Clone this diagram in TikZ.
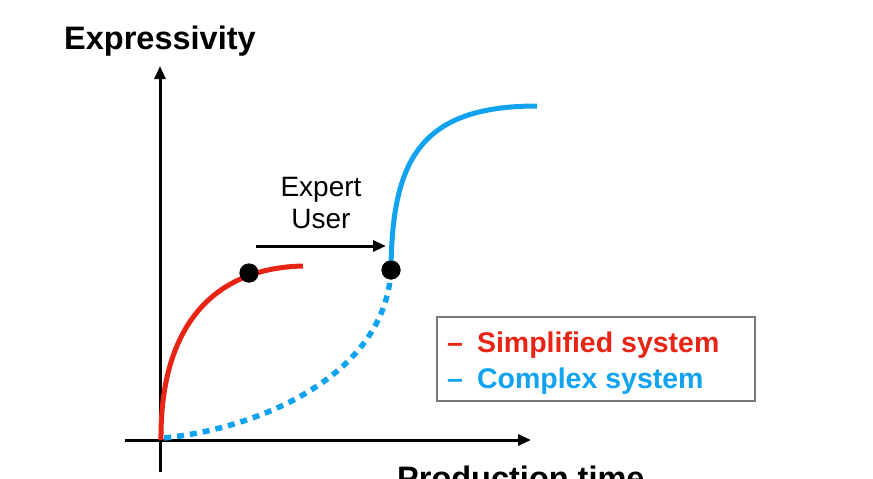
\documentclass[tikz,border=0pt]{standalone}
\usepackage{fontspec}
\setmainfont{Liberation Sans}
\usetikzlibrary{arrows.meta}
\definecolor{myred}{RGB}{232,36,20}
\definecolor{myblue}{RGB}{18,163,240}
\definecolor{boxgray}{RGB}{120,120,120}
\begin{document}
\begin{tikzpicture}[x=1pt,y=-1pt,
  axis/.style={line width=3pt,-{Triangle[length=13pt,width=11pt]}},
  curvered/.style={line width=5pt,myred},
  curveblue/.style={line width=5pt,myblue},
  dotblue/.style={line width=5.5pt,myblue,dash pattern=on 7pt off 6pt},
  dotmark/.style={circle,fill=black,inner sep=0pt,minimum size=19pt},
  bigbold/.style={font=\fontsize{32.5}{38}\selectfont\bfseries,inner sep=0pt},
  legtext/.style={font=\fontsize{28.5}{32}\selectfont\bfseries,inner sep=0pt,anchor=base west}
]
\useasboundingbox (0,0) rectangle (873,479);
% axes
\coordinate (yb) at (160,472);
\coordinate (yt) at (160,66);
\coordinate (xl) at (125,440);
\coordinate (xr) at (531,440);
\draw[axis] (yb) -- (yt);
\draw[axis] (xl) -- (xr);
% labels
\node[bigbold,anchor=base west] (ylab) at (64,49) {Expressivity};
\node[bigbold,anchor=base west] (xlab) at (397,489) {Production time};
% curves
\coordinate (rend) at (303,266);
\coordinate (bend) at (537,106);
\node[dotmark] (d1) at (249,273) {};
\node[dotmark] (d2) at (391,270) {};
\draw[curvered] (161,440) .. controls (160,330) and (210,268) .. (rend);
\draw[dotblue] (d2.center) .. controls (385,380) and (250,430) .. (163,438);
\draw[curveblue] (d2.center) .. controls (392,160) and (420,106) .. (bend);
\node[dotmark] at (249,273) {};
\node[dotmark] at (391,270) {};
% expert user
\node[font=\fontsize{28}{32}\selectfont,align=center,inner sep=0pt] (eu) at (321,203) {Expert\\User};
\coordinate (a1) at (256,246);
\coordinate (a2) at (386,246);
\draw[line width=3pt,-{Triangle[length=13pt,width=11pt]}] (a1) -- (a2);
% legend
\node[draw=boxgray,line width=1.5pt,minimum width=318pt,minimum height=84pt,anchor=north west] (leg) at (436,316) {};
\node[legtext,myred] (l1) at (447,352) {–\hspace{14pt}Simplified system};
\node[legtext,myblue] (l2) at (447,388) {–\hspace{14pt}Complex system};
\end{tikzpicture}
\end{document}
